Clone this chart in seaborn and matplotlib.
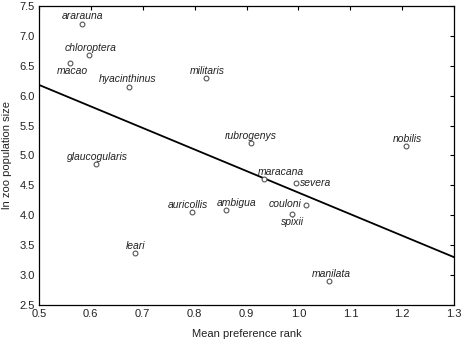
import matplotlib
matplotlib.use("Agg")
import matplotlib.pyplot as plt
import seaborn as sns
import numpy as np
import pandas as pd

species = ["ararauna", "chloroptera", "macao", "hyacinthinus", "militaris",
           "glaucogularis", "rubrogenys", "nobilis", "maracana", "severa",
           "couloni", "spixii", "manilata", "auricollis", "ambigua", "leari"]
pref_rank = [0.583, 0.597, 0.560, 0.674, 0.821, 0.610, 0.908, 1.207, 0.934,
             0.996, 1.014, 0.987, 1.059, 0.794, 0.861, 0.685]
ln_pop = [7.20, 6.68, 6.55, 6.15, 6.30, 4.86, 5.21, 5.16, 4.61, 4.54,
          4.18, 4.03, 2.90, 4.05, 4.09, 3.37]
fit_intercept = 7.98
fit_slope = -3.6

xticks = [0.5, 0.6, 0.7, 0.8, 0.9, 1.0, 1.1, 1.2, 1.3]
yticks = [2.5, 3.0, 3.5, 4.0, 4.5, 5.0, 5.5, 6.0, 6.5, 7.0, 7.5]

# label placement (offset pixels, ha)
label_pos = {
    "ararauna": (1, 8, "center"), "chloroptera": (1, 7, "center"),
    "macao": (2, -8, "center"), "hyacinthinus": (-2, 8, "center"),
    "militaris": (2, 7, "center"), "glaucogularis": (1, 7, "center"),
    "rubrogenys": (0, 7, "center"), "nobilis": (2, 7, "center"),
    "maracana": (-6, 7, "left"), "severa": (4, 0, "left"),
    "couloni": (-4, 1, "right"), "spixii": (1, -8, "center"),
    "manilata": (2, 7, "center"), "auricollis": (-4, 7, "center"),
    "ambigua": (10, 7, "center"), "leari": (1, 7, "center"),
}

df = pd.DataFrame({"species": species, "x": pref_rank, "y": ln_pop})

sns.set_theme(style="white")
plt.rcParams["font.family"] = ["Liberation Sans", "DejaVu Sans"]

fig = plt.figure(figsize=(4.63, 3.44), dpi=100)
ax = fig.add_axes([0.084, 0.113, 0.897, 0.870])

sns.scatterplot(data=df, x="x", y="y", ax=ax, marker="o", s=12,
                facecolor="white", edgecolor="#555555", linewidth=0.8,
                zorder=3, legend=False)

xl = np.array([0.5, 1.3])
sns.lineplot(x=xl, y=fit_intercept + fit_slope * xl, ax=ax, color="black",
             linewidth=1.3, zorder=2)

for s, xv, yv in zip(species, pref_rank, ln_pop):
    dx, dy, ha = label_pos[s]
    ax.annotate(s, (xv, yv), xytext=(dx, dy), textcoords="offset pixels",
                ha=ha, va="center", fontsize=7.5, style="italic",
                color="#222222")

ax.set_xlim(0.5, 1.3)
ax.set_ylim(2.5, 7.5)
ax.set_xticks(xticks)
ax.set_yticks(yticks)
ax.set_xticklabels([f"{v:.1f}" for v in xticks])
ax.set_yticklabels([f"{v:.1f}" for v in yticks])
ax.tick_params(direction="in", length=3, width=0.8, top=True, right=True,
               labelsize=8, colors="black", pad=3)
ax.tick_params(axis="both", labelcolor="#222222")
for sp in ax.spines.values():
    sp.set_visible(True)
    sp.set_color("black")
    sp.set_linewidth(0.9)
ax.set_xlabel("Mean preference rank", fontsize=8, color="#222222", labelpad=7)
ax.set_ylabel("ln zoo population size", fontsize=8, color="#222222", labelpad=5)

fig.savefig("out.png", dpi=100)
